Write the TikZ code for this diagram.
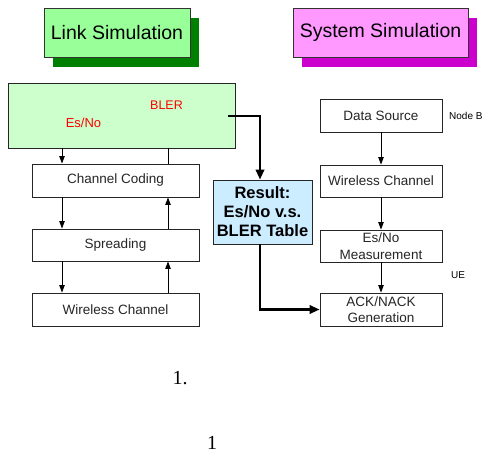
\documentclass[tikz,border=0pt]{standalone}
\usepackage{fontspec}
\setmainfont{Liberation Sans}
\newfontfamily\serifnum{Liberation Serif}
\usetikzlibrary{arrows.meta,positioning,calc}
\definecolor{lgreen}{RGB}{153,255,153}
\definecolor{dgreen}{RGB}{0,128,0}
\definecolor{lpink}{RGB}{255,153,255}
\definecolor{dpink}{RGB}{204,0,204}
\definecolor{pgreen}{RGB}{204,255,204}
\definecolor{lblue}{RGB}{204,236,255}
\tikzset{
  titlebox/.style={draw=black!80, line width=0.8pt, inner sep=0pt, font=\fontsize{19.5}{22}\selectfont},
  blk/.style={draw=black!85, line width=0.9pt, fill=white, minimum width=122pt, minimum height=33pt, inner sep=0pt, align=center, font=\fontsize{13.5}{16}\selectfont, text=black!85},
  lblk/.style={blk, minimum width=167pt},
  arr/.style={line width=0.8pt, -{Triangle[length=7.5pt,width=5.5pt]}},
  thk/.style={line width=2.2pt, -{Triangle[length=10pt,width=8.5pt]}},
  small/.style={font=\fontsize{10}{12}\selectfont, inner sep=0pt}
}
\begin{document}
\begin{tikzpicture}[x=1pt,y=-1pt]
\useasboundingbox (0,0) rectangle (488,454);
% title boxes with shadows
\fill[dgreen] (53,18) rectangle (199,67);
\node[titlebox, fill=lgreen, minimum width=146pt, minimum height=49pt] (link) at (117,32.5) {Link Simulation};
\fill[dpink] (302,18) rectangle (477,67);
\node[titlebox, fill=lpink, minimum width=175pt, minimum height=49pt] (sys) at (380.5,32.5) {System Simulation};
% link simulation chain
\node[draw=black!85, line width=0.9pt, fill=pgreen, minimum width=227pt, minimum height=65pt, inner sep=0pt] (big) at (121.5,115.5) {};
\node[font=\fontsize{12.5}{15}\selectfont, text=red, inner sep=0pt] (bler) at (166.5,105) {BLER};
\node[font=\fontsize{13}{15}\selectfont, text=red, inner sep=0pt] (esno) at (83.5,123) {Es/No};
\node[lblk] (cc) at (115.5,180.5) {Channel Coding};
\node[lblk, minimum height=32pt] (spr) at (115.5,245) {Spreading};
\node[lblk] (wcl) at (115.5,309.5) {Wireless Channel};
\coordinate (xl) at (62,0);
\coordinate (xr) at (168,0);
\draw[arr] (big.south -| xl) -- (cc.north -| xl);
\draw[line width=0.8pt] (cc.north -| xr) -- (big.south -| xr);
\draw[arr] (cc.south -| xl) -- (spr.north -| xl);
\draw[arr] (spr.north -| xr) -- (cc.south -| xr);
\draw[arr] (spr.south -| xl) -- (wcl.north -| xl);
\draw[arr] (wcl.north -| xr) -- (spr.south -| xr);
% result
\node[draw=black!85, line width=0.9pt, fill=lblue, minimum width=99pt, minimum height=64pt, inner sep=0pt, align=center, font=\bfseries\fontsize{16.5}{19}\selectfont] (res) at (262.5,212) {Result:\\Es/No v.s.\\BLER Table};
% system simulation chain
\node[blk] (ds) at (381,115.5) {Data Source};
\node[blk, minimum height=32pt] (wcr) at (381,181) {Wireless Channel};
\node[blk, minimum height=32pt, font=\fontsize{13.5}{16.5}\selectfont] (meas) at (381,246) {Es/No\\Measurement};
\node[blk, font=\fontsize{13.5}{16.5}\selectfont] (ack) at (381,309.5) {ACK/NACK\\Generation};
\draw[arr] (ds) -- (wcr);
\draw[arr] (wcr) -- (meas);
\draw[arr] (meas) -- (ack);
\node[small, anchor=west] (nodeb) at (449,116) {Node B};
\node[small, anchor=west] (ue) at (451,275) {UE};
% thick connectors
\coordinate (tap) at (228,116);
\coordinate (xm) at (260,0);
\draw[thk] (tap) -| (res.north -| xm);
\draw[thk] (res.south -| xm) |- (ack.west);
% captions
\node[font=\serifnum\fontsize{20}{24}\selectfont, inner sep=0pt, anchor=base] (cap1) at (180,385) {1.};
\node[font=\serifnum\fontsize{20}{24}\selectfont, inner sep=0pt, anchor=base] (cap2) at (212,450) {1};
\end{tikzpicture}
\end{document}
